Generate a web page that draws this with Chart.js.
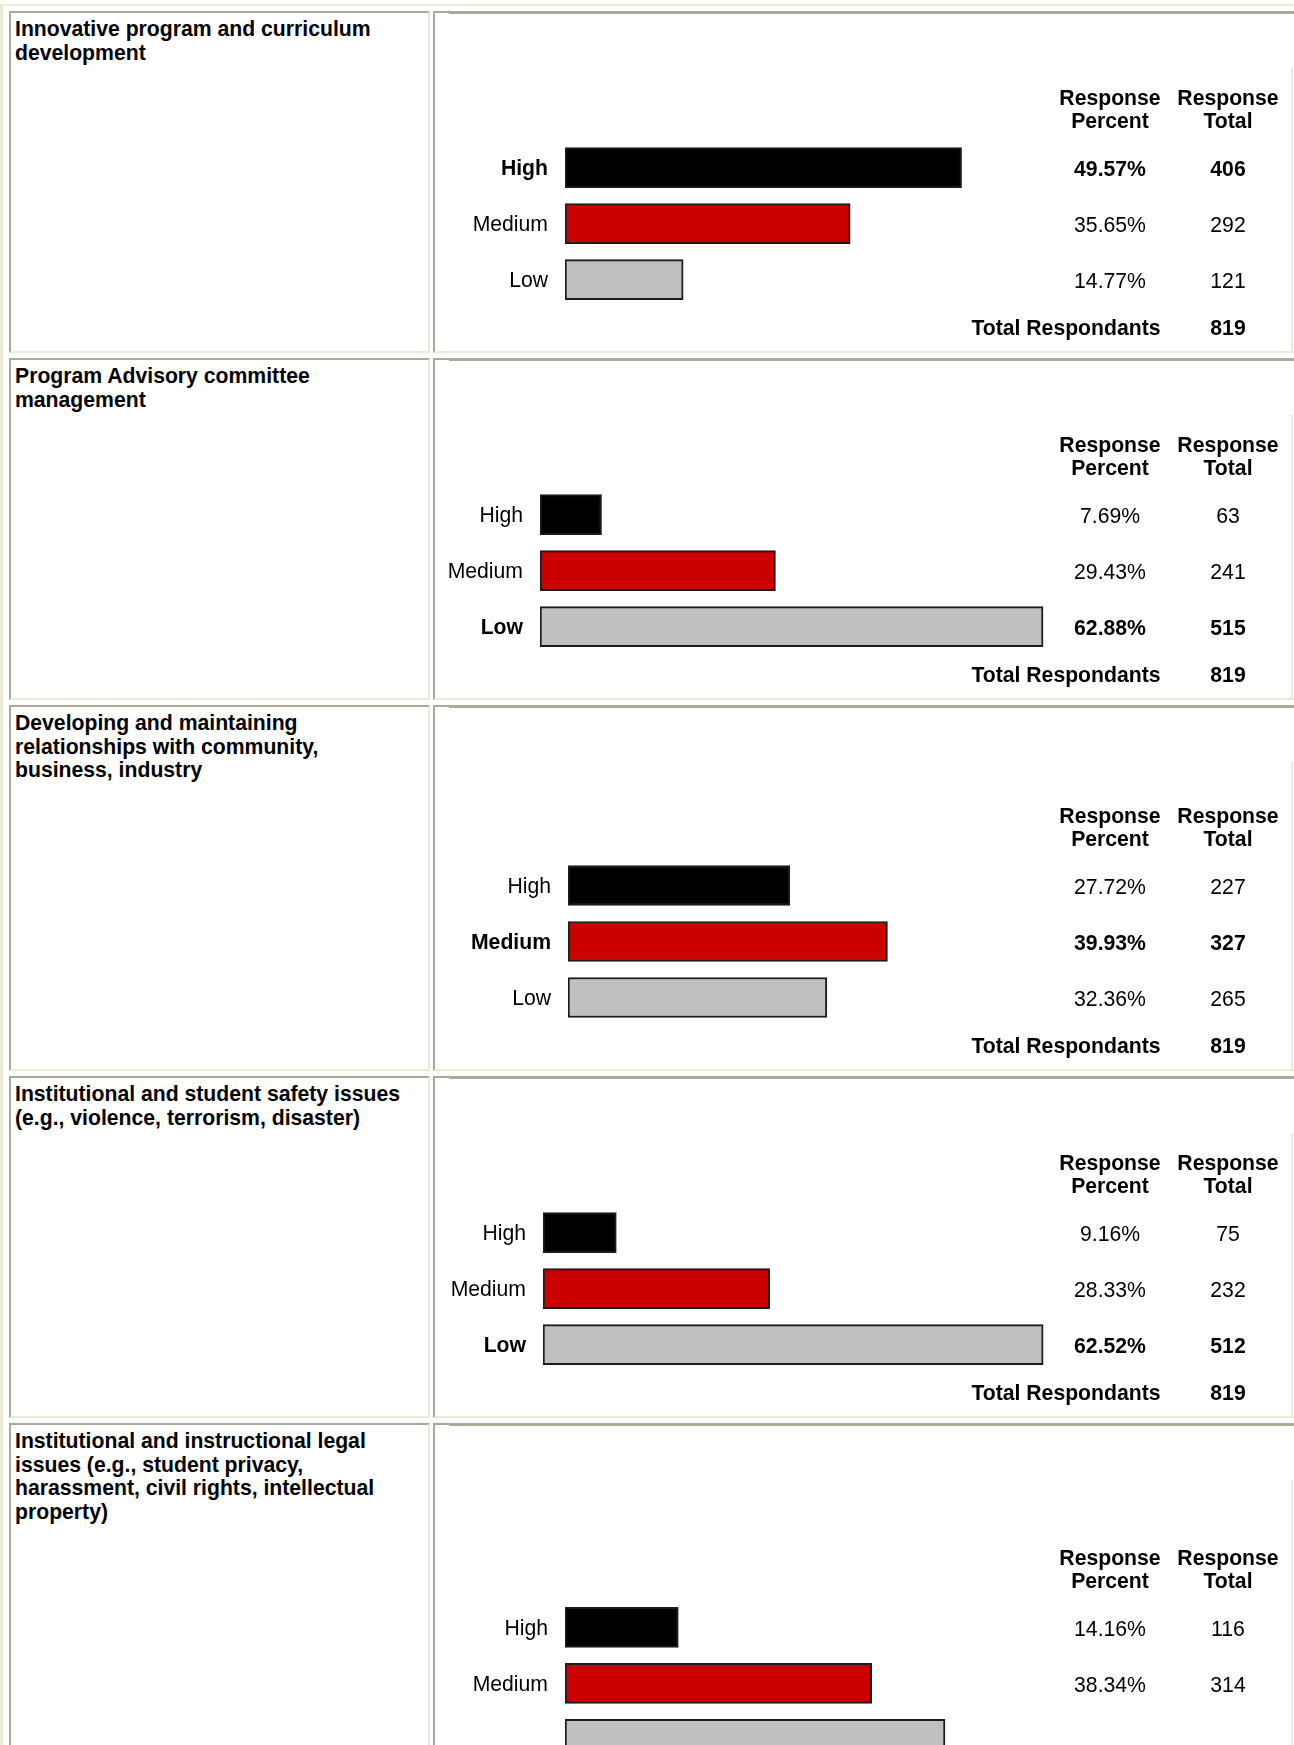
<!DOCTYPE html>
<html>
<head>
<meta charset="utf-8">
<script src="https://cdn.jsdelivr.net/npm/chart.js@4.4.1/dist/chart.umd.min.js"></script>
<style>
  html, body { margin: 0; padding: 0; background: #fff; }
  body { width: 1294px; height: 1745px; overflow: hidden; position: relative;
         font-family: 'Liberation Sans', Arial, sans-serif; color: #000; }
  .band { position: absolute; background: #ece9d8; }
  .cell { position: absolute; box-sizing: border-box; border: 2px solid;
          border-color: #aca899 #ece9d8 #ece9d8 #aca899; background: #fff; }
  .title { position: absolute; left: 15px; font-weight: bold; font-size: 21.2px;
           line-height: 23.7px; white-space: nowrap; }
  .cap { position: absolute; left: 449px; width: 845px; height: 3px; background: #aca899; }
  .edge { position: absolute; left: 1291px; width: 2px; background: #ece9d8; }
  canvas { position: absolute; }
</style>
</head>
<body>
<div class="band" style="left:0;top:4px;width:1294px;height:2px"></div>
<div class="band" style="left:0;top:4px;width:3px;height:1741px"></div>
<div id="page"></div>
<script>
// categories and values
const levels = ['High', 'Medium', 'Low'];
const topicLines = [
    ['Innovative program and curriculum', 'development'],
    ['Program Advisory committee', 'management'],
    ['Developing and maintaining', 'relationships with community,', 'business, industry'],
    ['Institutional and student safety issues', '(e.g., violence, terrorism, disaster)'],
    ['Institutional and instructional legal', 'issues (e.g., student privacy,', 'harassment, civil rights, intellectual', 'property)']
];
const pctInnovative = [49.57, 35.65, 14.77];
const cntInnovative = [406, 292, 121];
const pctAdvisory = [7.69, 29.43, 62.88];
const cntAdvisory = [63, 241, 515];
const pctCommunity = [27.72, 39.93, 32.36];
const cntCommunity = [227, 327, 265];
const pctSafety = [9.16, 28.33, 62.52];
const cntSafety = [75, 232, 512];
const pctLegal = [14.16, 38.34, 47.50];
const cntLegal = [116, 314, 389];
const totalRespondants = 819;

const percentSeries = [pctInnovative, pctAdvisory, pctCommunity, pctSafety, pctLegal];
const countSeries = [cntInnovative, cntAdvisory, cntCommunity, cntSafety, cntLegal];

const barColors = ['#000000', '#cc0000', '#c0c0c0'];

// page layout (pixels)
const CANVAS_X = 436;
const CANVAS_W = 1000;
const barLeftX = [565, 540, 568, 543, 565];
const PCT_X = 1110, CNT_X = 1228, TOTAL_RIGHT_X = 1160.5;
const TEXT_CUTOFF_Y = 1730;   // the screenshot ends before the last text row
const FONT = '"Liberation Sans", Arial, sans-serif';
const FSIZE = 21.2;

// draws the Response Percent / Response Total columns next to the bars
const respTable = {
    id: 'respTable',
    afterDatasetsDraw(chart, args, opts) {
        const ctx = chart.ctx;
        const ys = chart.scales.y;
        const c0 = ys.getPixelForValue(0);
        const c2 = ys.getPixelForValue(2);
        const px = PCT_X - CANVAS_X, cx = CNT_X - CANVAS_X;
        const visible = y => opts.top + y < TEXT_CUTOFF_Y;
        ctx.save();
        ctx.fillStyle = '#000';
        ctx.textAlign = 'center';
        ctx.textBaseline = 'alphabetic';
        ctx.font = `bold ${FSIZE}px ${FONT}`;
        ctx.fillText('Response', px, c0 - 62.3);
        ctx.fillText('Percent', px, c0 - 39.5);
        ctx.fillText('Response', cx, c0 - 62.3);
        ctx.fillText('Total', cx, c0 - 39.5);

        opts.pct.forEach((v, i) => {
            const y = ys.getPixelForValue(i);
            if (!visible(y)) return;
            ctx.font = (i === opts.bold ? 'bold ' : '') + `${FSIZE}px ${FONT}`;
            ctx.fillText(v.toFixed(2) + '%', px, y + 8.3);
            ctx.fillText(String(opts.cnt[i]), cx, y + 8.3);
        });

        if (visible(c2 + 48)) {
            ctx.font = `bold ${FSIZE}px ${FONT}`;
            ctx.fillText(String(opts.total), cx, c2 + 55.6);
            ctx.textAlign = 'right';
            ctx.fillText('Total Respondants', TOTAL_RIGHT_X - CANVAS_X, c2 + 55.6);
        }
        ctx.restore();
    }
};

function addDiv(cls, style) {
    const d = document.createElement('div');
    d.className = cls;
    d.style.cssText = style;
    document.getElementById('page').appendChild(d);
    return d;
}

let rowTop = 11;
topicLines.forEach((lines, i) => {
    const n = lines.length;
    const pitch = 347 + (n - 2) * 24;
    const h = pitch - 5;
    const shift = (n - 2) * 23.8;

    addDiv('cell', `left:9px;top:${rowTop}px;width:421px;height:${h}px`);
    addDiv('cell', `left:433px;top:${rowTop}px;width:900px;height:${h}px`);
    addDiv('cap', `top:${rowTop}px`);
    addDiv('edge', `top:${rowTop + 57}px;height:${h - 59}px`);
    const t = addDiv('title', `top:${rowTop + 6}px`);
    lines.forEach((ln, k) => {
        if (k) t.appendChild(document.createElement('br'));
        t.appendChild(document.createTextNode(ln));
    });

    const canvasTop = rowTop + 3;
    const canvasH = h - 6;
    const canvas = document.createElement('canvas');
    canvas.width = CANVAS_W;
    canvas.height = canvasH;
    canvas.style.cssText = `left:${CANVAS_X}px;top:${canvasTop}px;width:${CANVAS_W}px;height:${canvasH}px`;
    document.getElementById('page').appendChild(canvas);

    const pct = percentSeries[i];
    const cnt = countSeries[i];
    const boldIdx = pct.indexOf(Math.max(...pct));
    const axisW = barLeftX[i] - CANVAS_X;
    const padTop = 125.7 + shift;
    const padBottom = canvasH - padTop - 168;
    const padRight = CANVAS_W - axisW - 800;

    new Chart(canvas.getContext('2d'), {
        type: 'bar',
        data: {
            labels: levels,
            datasets: [{
                data: pct,
                backgroundColor: barColors,
                borderColor: '#1c1c1c',
                borderWidth: 2,
                borderSkipped: false,
                barThickness: 40
            }]
        },
        options: {
            indexAxis: 'y',
            responsive: false,
            animation: false,
            layout: { padding: { top: padTop, bottom: padBottom, left: 0, right: padRight } },
            plugins: {
                legend: { display: false },
                tooltip: { enabled: false },
                respTable: { pct: pct, cnt: cnt, bold: boldIdx, total: totalRespondants, top: canvasTop }
            },
            scales: {
                x: { type: 'linear', min: 0, max: 100, display: false },
                y: {
                    type: 'category',
                    grid: { display: false, drawTicks: false },
                    border: { display: false },
                    afterFit: s => { s.width = axisW; },
                    ticks: {
                        padding: 17,
                        labelOffset: 1.5,
                        color: c => canvasTop + c.scale.getPixelForValue(c.index) < TEXT_CUTOFF_Y ? '#000' : 'rgba(0,0,0,0)',
                        font: c => ({ family: FONT, size: FSIZE, weight: c.index === boldIdx ? 'bold' : 'normal' })
                    }
                }
            }
        },
        plugins: [respTable]
    });

    rowTop += pitch;
});
</script>
</body>
</html>
